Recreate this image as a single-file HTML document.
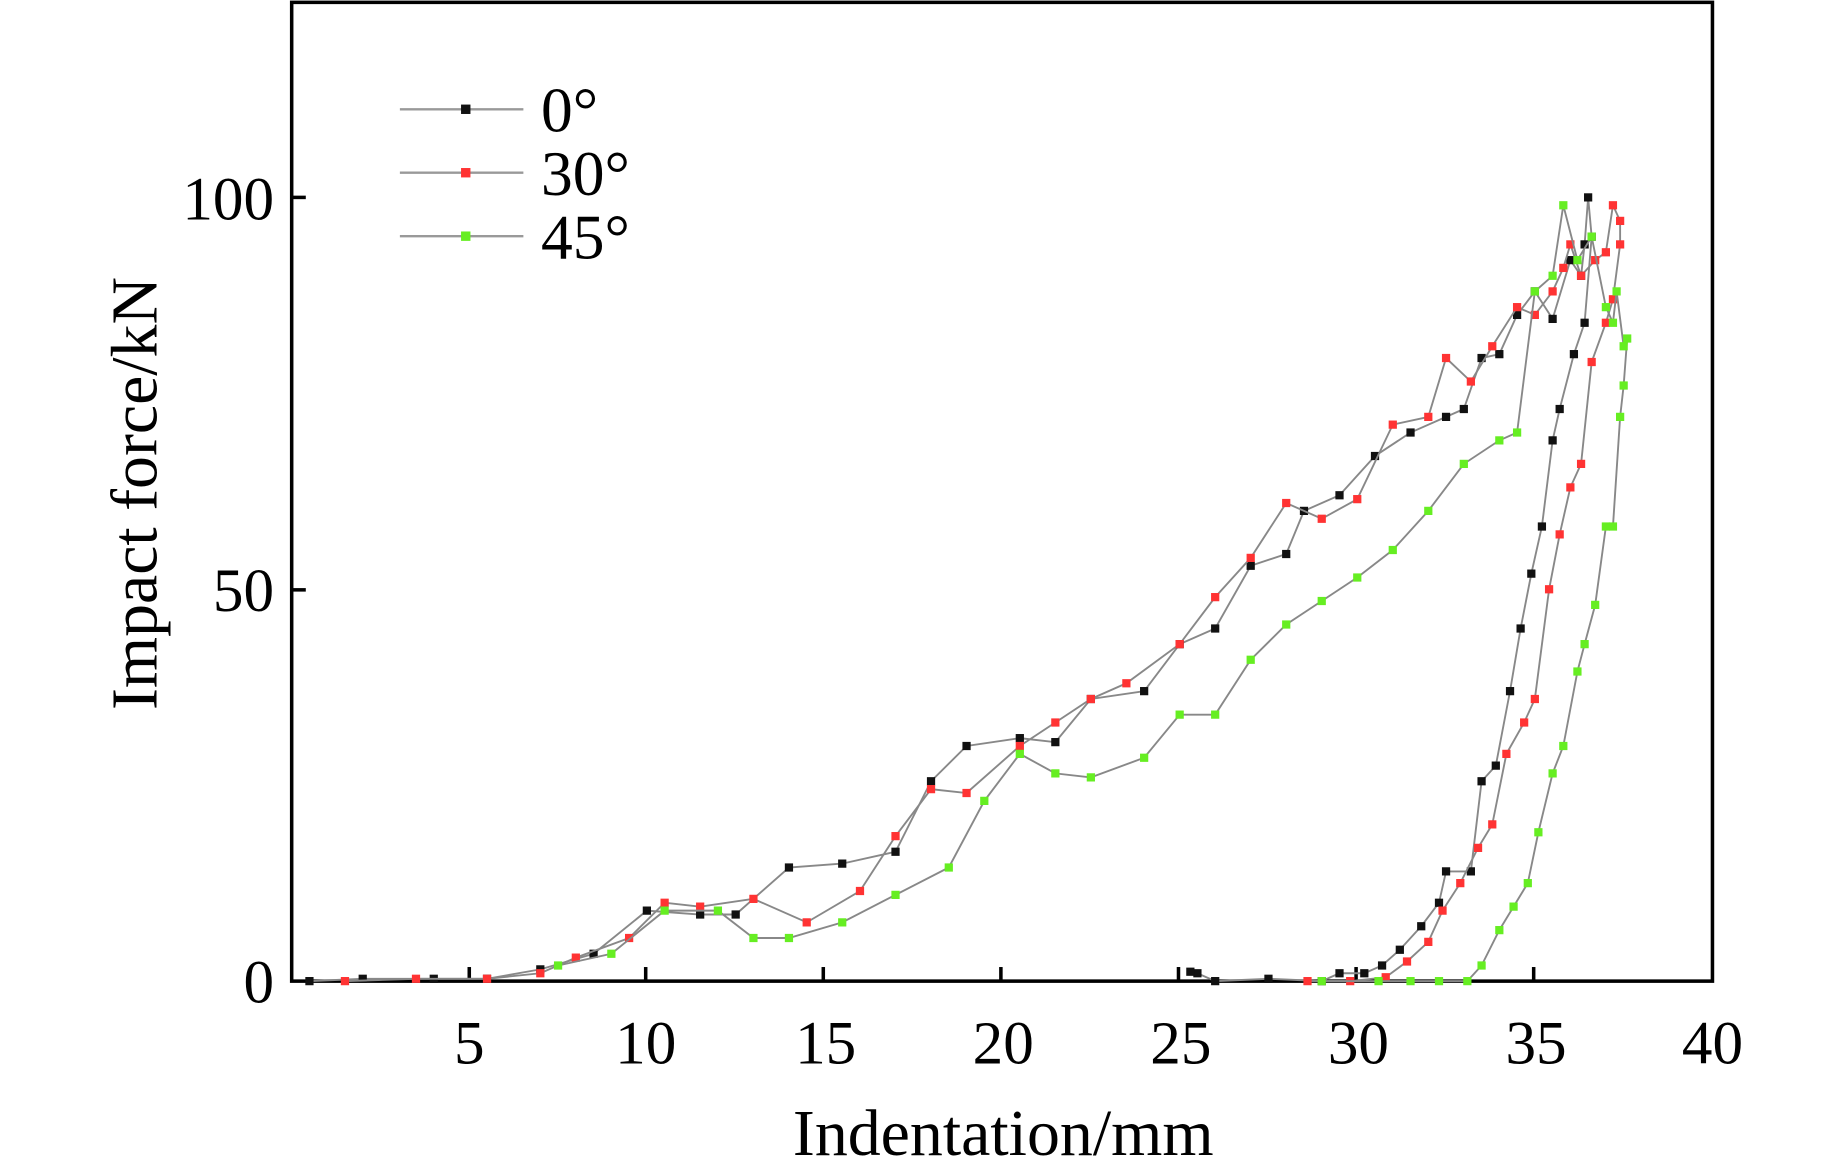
<!DOCTYPE html>
<html><head><meta charset="utf-8"><style>
html,body{margin:0;padding:0;background:#fff;width:1843px;height:1175px;overflow:hidden}
svg{display:block}
text{font-family:"Liberation Serif",serif;fill:#000}
</style></head><body>
<svg id="s" width="1843" height="1175" viewBox="0 0 1567 1000" preserveAspectRatio="none" xmlns="http://www.w3.org/2000/svg">
<rect x="248" y="2" width="1208" height="833" fill="none" stroke="#000" stroke-width="3"/>
<g stroke="#000" stroke-width="3">
<line x1="399" y1="835" x2="399" y2="823"/><line x1="549" y1="835" x2="549" y2="823"/>
<line x1="700" y1="835" x2="700" y2="823"/><line x1="851" y1="835" x2="851" y2="823"/>
<line x1="1002" y1="835" x2="1002" y2="823"/><line x1="1153" y1="835" x2="1153" y2="823"/>
<line x1="1304" y1="835" x2="1304" y2="823"/>
<line x1="248" y1="502" x2="260" y2="502"/><line x1="248" y1="168" x2="260" y2="168"/>
</g>
<g font-size="52" text-anchor="middle">
<text x="399" y="905">5</text><text x="549" y="905">10</text><text x="702" y="905">15</text>
<text x="853" y="905">20</text><text x="1004" y="905">25</text><text x="1155" y="905">30</text>
<text x="1306" y="905">35</text><text x="1456" y="905">40</text>
</g>
<g font-size="52" text-anchor="end">
<text x="233" y="853">0</text><text x="233" y="520">50</text><text x="233" y="187">100</text>
</g>
<text x="853" y="983" font-size="56" text-anchor="middle">Indentation/mm</text>
<text transform="translate(133,420) rotate(-90)" font-size="56" text-anchor="middle">Impact force/kN</text>
<g id="leg">
<line x1="340" y1="93" x2="445" y2="93" stroke="#999" stroke-width="2"/>
<line x1="340" y1="147" x2="445" y2="147" stroke="#999" stroke-width="2"/>
<line x1="340" y1="201" x2="445" y2="201" stroke="#999" stroke-width="2"/>
<rect x="392" y="89" width="8" height="8" fill="#111"/>
<rect x="392" y="143" width="8" height="8" fill="#f33"/>
<rect x="392" y="197" width="8" height="8" fill="#6e2"/>
<text x="460" y="112" font-size="54">0°</text>
<text x="460" y="166" font-size="54">30°</text>
<text x="460" y="220" font-size="54">45°</text>
</g>
<g id="data"></g>
</svg>
<script>
var X=function(v){return 248+v*30.2},Y=function(v){return 835-v*6.67};
var black=[[0.5,0],[2,0.3],[4,0.3],[5.5,0.3],[7,1.5],[8.5,3.5],[10,9],[11.5,8.5],[12.5,8.5],[14,14.5],[15.5,15],[17,16.5],[18,25.5],[19,30],[20.5,31],[21.5,30.5],[22.5,36],[24,37],[25,43],[26,45],[27,53],[28,54.5],[28.5,60],[29.5,62],[30.5,67],[31.5,70],[32.5,72],[33,73],[33.5,79.5],[34,80],[34.5,85],[35,88],[35.5,84.5],[36,92],[36.3,90],[36.4,94],[36.5,100],[36.6,95],[36.4,84],[36.1,80],[35.7,73],[35.5,69],[35.2,58],[34.9,52],[34.6,45],[34.3,37],[33.9,27.5],[33.5,25.5],[33.2,14],[32.5,14],[32.3,10],[31.8,7],[31.2,4],[30.7,2],[30.2,1],[29.5,1],[29,0],[27.5,0.3],[26,0],[25.5,1],[25.3,1.2]];
var red=[[1.5,0],[3.5,0.3],[5.5,0.3],[7,1],[8,3],[9.5,5.5],[10.5,10],[11.5,9.5],[13,10.5],[14.5,7.5],[16,11.5],[17,18.5],[18,24.5],[19,24],[20.5,30],[21.5,33],[22.5,36],[23.5,38],[25,43],[26,49],[27,54],[28,61],[29,59],[30,61.5],[31,71],[32,72],[32.5,79.5],[33.2,76.5],[33.8,81],[34.5,86],[35,85],[35.5,88],[35.8,91],[36,94],[36.3,90],[36.7,92],[37,93],[37.2,99],[37.4,97],[37.4,94],[37.2,87],[37,84],[36.6,79],[36.3,66],[36,63],[35.7,57],[35.4,50],[35,36],[34.7,33],[34.2,29],[33.8,20],[33.4,17],[32.9,12.5],[32.4,9],[32,5],[31.4,2.5],[30.8,0.5],[29.8,0],[28.6,0]];
var green=[[7.5,2],[9,3.5],[10.5,9],[12,9],[13,5.5],[14,5.5],[15.5,7.5],[17,11],[18.5,14.5],[19.5,23],[20.5,29],[21.5,26.5],[22.5,26],[24,28.5],[25,34],[26,34],[27,41],[28,45.5],[29,48.5],[30,51.5],[31,55],[32,60],[33,66],[34,69],[34.5,70],[35,88],[35.5,90],[35.8,99],[36.2,92],[36.6,95],[37,86],[37.2,84],[37.3,88],[37.5,81],[37.6,82],[37.5,76],[37.4,72],[37.2,58],[37,58],[36.7,48],[36.4,43],[36.2,39.5],[35.8,30],[35.5,26.5],[35.1,19],[34.8,12.5],[34.4,9.5],[34,6.5],[33.5,2],[33.1,0],[32.3,0],[31.5,0],[30.6,0],[29,0]];
var g=document.getElementById('data'),h='';
[[black,'#111'],[red,'#f33'],[green,'#6e2']].forEach(function(s){
 var p=s[0].map(function(d){return X(d[0]).toFixed(1)+','+Y(d[1]).toFixed(1)}).join(' ');
 h+='<polyline points="'+p+'" fill="none" stroke="#888" stroke-width="1.6"/>';
 s[0].forEach(function(d){h+='<rect x="'+(X(d[0])-3.5).toFixed(1)+'" y="'+(Y(d[1])-3.5).toFixed(1)+'" width="7" height="7" fill="'+s[1]+'"/>';});
});
g.innerHTML=h;
</script>
</body></html>
